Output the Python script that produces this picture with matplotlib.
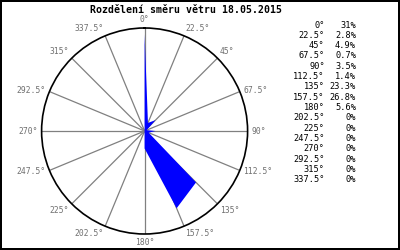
import numpy as np
import matplotlib
matplotlib.use("Agg")
from matplotlib import pyplot as plt

# wind direction share, 18.05.2015
directions = [0, 22.5, 45, 67.5, 90, 112.5, 135, 157.5,
              180, 202.5, 225, 247.5, 270, 292.5, 315, 337.5]
shares = [31, 2.8, 4.9, 0.7, 3.5, 1.4, 23.3, 26.8,
          5.6, 0, 0, 0, 0, 0, 0, 0]
dir_labels = ["0°", "22.5°", "45°", "67.5°", "90°", "112.5°", "135°", "157.5°",
              "180°", "202.5°", "225°", "247.5°", "270°", "292.5°", "315°", "337.5°"]
share_labels = ["31%", "2.8%", "4.9%", "0.7%", "3.5%", "1.4%", "23.3%", "26.8%",
                "5.6%", "0%", "0%", "0%", "0%", "0%", "0%", "0%"]

plt.rcParams['font.family'] = ['DejaVu Sans Mono']

fig = plt.figure(figsize=(4, 2.5), dpi=100)
fig.patch.set_edgecolor('black')
fig.patch.set_linewidth(1.5)

ax = fig.add_axes([0.104, 0.064, 0.515, 0.824], projection='polar')
ax.set_theta_zero_location('N')
ax.set_theta_direction(-1)

theta = np.deg2rad(directions + [directions[0]])
r = shares + [shares[0]]
ax.fill(theta, r, color='#0000ff', lw=0, zorder=3)
rmax = 33
ax.set_ylim(0, rmax)

ax.set_thetagrids(directions, [''] * len(directions))
ax.set_yticks([])
ax.grid(True, color='#808080', lw=0.9)
ax.spines['polar'].set_color('black')
ax.spines['polar'].set_linewidth(1.2)

# direction labels just outside the circle, anchored by their near edge
for d, lab in zip(directions, dir_labels):
    t = np.deg2rad(d)
    s, c = np.sin(t), np.cos(t)
    ha = 'center' if abs(s) < 0.2 else ('left' if s > 0 else 'right')
    va = 'center' if abs(c) < 0.5 else ('bottom' if c > 0 else 'top')
    ax.text(t, rmax * 1.035, lab, ha=ha, va=va, fontsize=5.8,
            color='#707070', clip_on=False)

fig.text(0.465, 0.96, "Rozdělení směru větru 18.05.2015", ha='center', va='center',
         fontsize=7.1, fontweight='bold')

for i in range(len(directions)):
    y = 1 - (25 + i * 10.33) / 250
    fig.text(0.812, y, dir_labels[i], ha='right', va='center', fontsize=6.2)
    fig.text(0.89, y, share_labels[i], ha='right', va='center', fontsize=6.2)

fig.savefig("out.png", dpi=100, edgecolor=fig.get_edgecolor())
